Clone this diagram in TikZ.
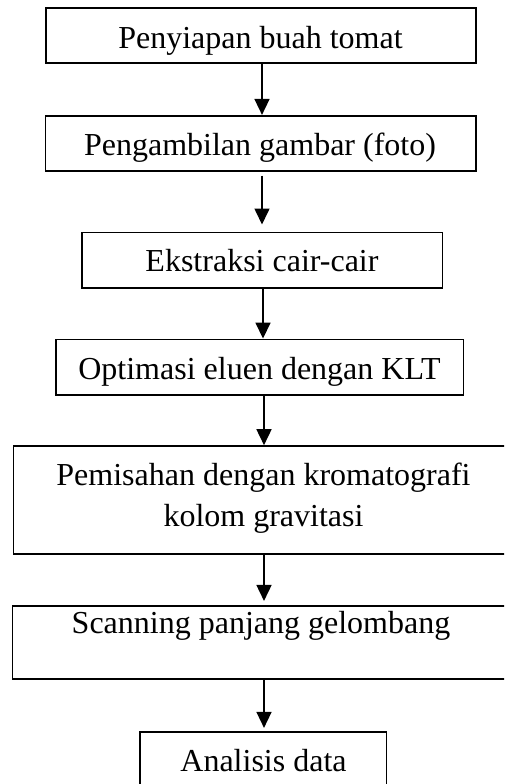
\documentclass[tikz,border=0pt]{standalone}
\usepackage{fontspec}
\setmainfont{Liberation Serif}
\usetikzlibrary{arrows.meta}
\begin{document}
\begin{tikzpicture}[x=1pt,y=-1pt,
  box/.style={draw, line width=1.6pt, inner sep=0pt},
  lbl/.style={font=\fontsize{32}{41}\selectfont, anchor=base, inner sep=0pt, align=center},
  arr/.style={line width=1.6pt, -{Triangle[width=15pt,length=16pt]}}]
\useasboundingbox (0,0) rectangle (504,784);
\clip (0,0) rectangle (504,784);
% boxes
\node[box, minimum width=430pt, minimum height=55pt] (b1) at (261,35.8) {};
\node[box, minimum width=430.5pt, minimum height=55pt] (b2) at (260.8,143.2) {};
\node[box, minimum width=360.6pt, minimum height=55.4pt] (b3) at (262,260) {};
\node[box, minimum width=407.3pt, minimum height=55.7pt] (b4) at (259.7,367.2) {};
\node[box, minimum width=501.4pt, minimum height=108pt] (b5) at (264,500) {};
\node[box, minimum width=503.4pt, minimum height=73.3pt] (b6) at (264,642.4) {};
\node[box, minimum width=246.7pt, minimum height=60pt] (b7) at (263.3,761.7) {};
% texts
\node[lbl] (t1) at (260.5,48.3) {Penyiapan buah tomat};
\node[lbl] (t2) at (260,155) {Pengambilan gambar (foto)};
\node[lbl] (t3) at (262,271) {Ekstraksi cair-cair};
\node[lbl] (t4) at (259.5,379) {Optimasi eluen dengan KLT};
\node[lbl] (t5) at (263.5,526.7) {Pemisahan dengan kromatografi\\kolom gravitasi};
\node[lbl] (t6) at (261,633) {Scanning panjang gelombang};
\node[lbl] (t7) at (263.5,771) {Analisis data};
% arrows
\coordinate (xa) at (262,0);
\coordinate (xb) at (263,0);
\coordinate (xc) at (264,0);
\draw[arr] (b1.south -| xa) -- (b2.north -| xa);
\draw[arr, shorten <=4pt, shorten >=7pt] (b2.south -| xa) -- (b3.north -| xa);
\draw[arr] (b3.south -| xb) -- (b4.north -| xb);
\draw[arr] (b4.south -| xc) -- (b5.north -| xc);
\draw[arr, shorten >=4pt] (b5.south -| xc) -- (b6.north -| xc);
\draw[arr, shorten >=3pt] (b6.south -| xc) -- (b7.north -| xc);
\end{tikzpicture}
\end{document}
